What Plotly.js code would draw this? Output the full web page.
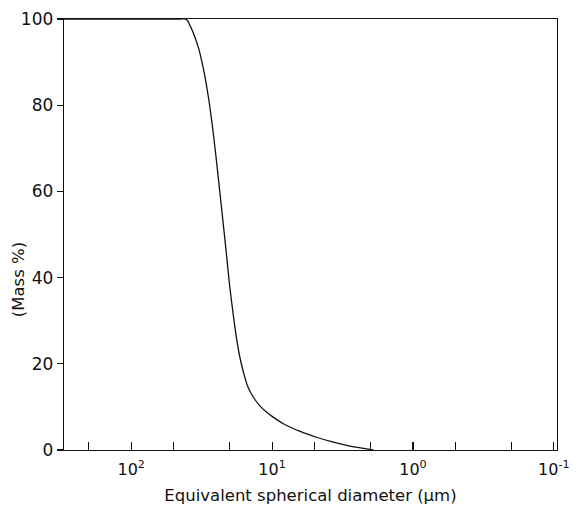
<!DOCTYPE html>
<html>
<head>
<meta charset="utf-8">
<script src="https://cdn.plot.ly/plotly-3.0.1.min.js"></script>
<style>html,body{margin:0;padding:0;background:#fff;}#chart{width:578px;height:510px;}</style>
</head>
<body>
<div id="chart"></div>
<script>
// Equivalent spherical diameter (µm) and cumulative mass %
const diameter = [300, 120, 60, 45, 41.4, 39.8, 38.0, 35.5, 33.1, 31.6, 29.9, 28.2, 26.6, 25.1, 23.7, 22.4, 21.1, 20.0, 18.8, 17.8, 16.8, 15.8, 15.0, 14.3, 13.18, 12.02, 10.96, 10.0, 8.32, 6.31, 4.79, 3.67, 2.8, 2.14, 1.91];
const massPct  = [100, 100, 100, 100, 100, 99.6, 98.3, 96.0, 93.0, 90.3, 86.5, 81.5, 75.5, 68.5, 61.0, 53.5, 45.5, 38.0, 31.0, 25.5, 21.0, 17.5, 15.0, 13.5, 11.6, 10.0, 8.8, 7.8, 6.1, 4.3, 2.9, 1.8, 0.9, 0.25, 0];

const xTickVals = [200, 100, 50, 20, 10, 5, 2, 1, 0.5, 0.2, 0.1];
const xTickText = ['', '10<sup>2</sup>', '', '', '10<sup>1</sup>', '', '', '10<sup>0</sup>', '', '', '10<sup>-1</sup>'];
const yTickVals = [0, 20, 40, 60, 80, 100];

const fontFam = 'DejaVu Sans, Verdana, sans-serif';

Plotly.newPlot('chart', [{
  x: diameter, y: massPct, type: 'scatter', mode: 'lines',
  line: {color: '#111', width: 1.3, shape: 'spline', smoothing: 0.5}, hoverinfo: 'skip'
}], {
  width: 578, height: 510,
  margin: {l: 64, r: 21, t: 19, b: 60},
  paper_bgcolor: '#fff', plot_bgcolor: '#fff',
  showlegend: false,
  font: {family: fontFam, color: '#111'},
  xaxis: {
    type: 'log', range: [Math.log10(300), Math.log10(0.095)], autorange: false,
    tickmode: 'array', tickvals: xTickVals, ticktext: xTickText,
    ticks: 'inside', ticklen: 8, tickwidth: 1.2, tickcolor: '#111',
    ticklabelstandoff: 4,
    showline: true, linecolor: '#111', linewidth: 1.3, mirror: true,
    showgrid: false, zeroline: false,
    tickfont: {size: 16, family: fontFam, color: '#111'},
    title: {text: 'Equivalent spherical diameter (µm)', font: {size: 16.5, family: fontFam, color: '#111'}, standoff: 12}
  },
  yaxis: {
    range: [0, 100], autorange: false,
    tickmode: 'array', tickvals: yTickVals,
    ticks: 'outside', ticklen: 6, tickwidth: 1.2, tickcolor: '#111',
    showline: true, linecolor: '#111', linewidth: 1.3, mirror: true,
    showgrid: false, zeroline: false,
    tickfont: {size: 17, family: fontFam, color: '#111'}
  },
  annotations: [{
    text: '(Mass %)', textangle: -90, showarrow: false,
    xref: 'paper', yref: 'paper', x: 0, y: 0.394, xshift: -46,
    xanchor: 'center', yanchor: 'middle',
    font: {size: 16.5, family: fontFam, color: '#111'}
  }]
}, {staticPlot: true});
</script>
</body>
</html>
